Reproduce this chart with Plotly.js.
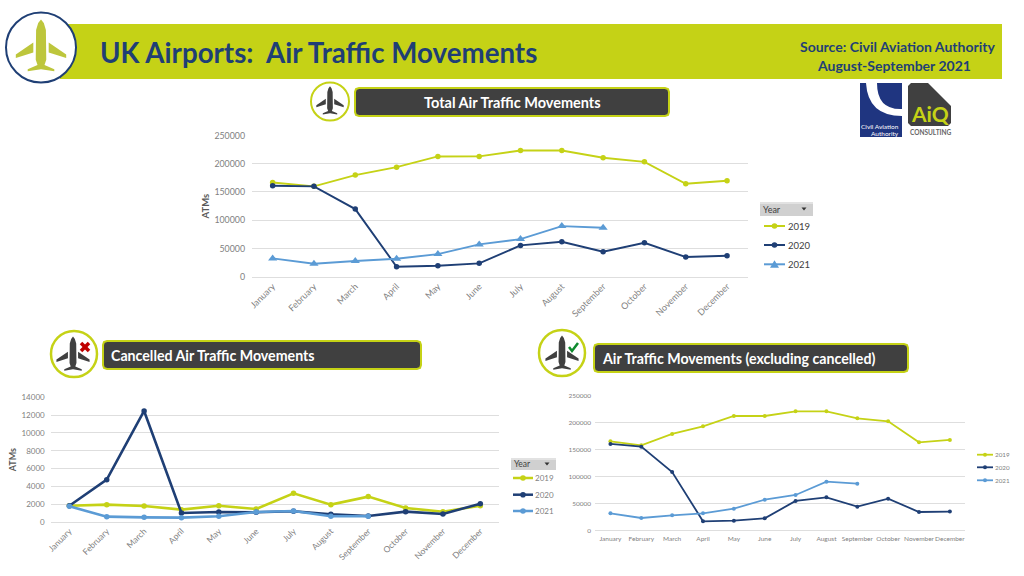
<!DOCTYPE html>
<html><head><meta charset="utf-8">
<script src="https://cdn.plot.ly/plotly-3.0.1.min.js"></script>
<style>html,body{margin:0;padding:0;background:#fff;overflow:hidden}#c{width:1024px;height:576px}</style>
</head><body><div id="c"></div>
<script>
const months = ["January","February","March","April","May","June","July","August","September","October","November","December"];
const years = ["2019","2020","2021"];

const total2019 = [166900,160000,179900,194000,212900,213000,223500,223500,210500,203400,164500,169800];
const total2020 = [161000,160000,119700,17700,19500,23600,55400,61900,44200,60000,34800,37100];
const total2021 = [32400,23000,27700,31800,40000,57200,66600,89600,86700];

const cancelled2019 = [1830,1950,1800,1385,1830,1460,3220,1950,2850,1570,1160,1835];
const cancelled2020 = [1830,4750,12470,1010,1120,1090,1200,860,670,1160,900,2060];
const cancelled2021 = [1760,600,520,490,640,1120,1240,640,640];

const excl2019 = [164800,157400,178400,192600,211700,211700,220400,220400,207400,201900,163000,167300];
const excl2020 = [159900,154900,108000,16700,17900,22200,54300,61000,43800,58600,33900,34600];
const excl2021 = [31500,22800,27800,31500,40100,56800,65400,90000,86400];

const LIME="#C5D216", NAVY="#1F3F75", BLUE="#5B9BD5", DARK="#404040", GREY="#7F7F7F", GRID="#DEDEDE";
const colors=[LIME,NAVY,BLUE];
const FONT="Lato, 'Open Sans', sans-serif";
const W=1024,H=576;
const px=x=>x/W, py=y=>1-y/H;
const shapes=[], annotations=[];

function rect(x0,y0,x1,y1,fill,line,lw){shapes.push({type:"rect",xref:"paper",yref:"paper",x0:px(x0),x1:px(x1),y0:py(y1),y1:py(y0),fillcolor:fill,line:{color:line||fill,width:lw||0}});}
function circle(cx,cy,r,fill,line,lw){shapes.push({type:"circle",xref:"paper",yref:"paper",x0:px(cx-r),x1:px(cx+r),y0:py(cy+r),y1:py(cy-r),fillcolor:fill,line:{color:line,width:lw}});}
function poly(pts,fill,close){let d=pts.map((p,i)=>(i?"L":"M")+px(p[0]).toFixed(5)+","+py(p[1]).toFixed(5)).join(" ")+(close===false?"":" Z");shapes.push({type:"path",xref:"paper",yref:"paper",path:d,fillcolor:close===false?"rgba(0,0,0,0)":fill,line:{color:fill,width:close===false?2.5:0}});}
function seg(x0,y0,x1,y1,c,w){shapes.push({type:"line",xref:"paper",yref:"paper",x0:px(x0),x1:px(x1),y0:py(y0),y1:py(y1),line:{color:c,width:w}});}
function label(x,y,text,size,color,anchor,bold){annotations.push({xref:"paper",yref:"paper",x:px(x),y:py(y),text:bold?"<b>"+text+"</b>":text,showarrow:false,xanchor:anchor||"left",yanchor:"middle",borderpad:0,font:{family:FONT,size:size,color:color}});}
function plane(cx,cy,r,c){
  const s=(u,v)=>[cx+u*r,cy+v*r];
  poly([s(0,-.8),s(.08,-.7),s(.14,-.5),s(.15,.35),s(.1,.5),s(.38,.62),s(.38,.68),s(0,.62),s(-.38,.68),s(-.38,.62),s(-.1,.5),s(-.15,.35),s(-.14,-.5),s(-.08,-.7)],c);
  poly([s(.22,-.14),s(.72,.2),s(.72,.3),s(.22,.14)],c);
  poly([s(-.22,-.14),s(-.72,.2),s(-.72,.3),s(-.22,.14)],c);
}
function titleBox(x0,y0,x1,y1,text,tx,anchor,size){
  const r=4;
  const k=[[x0+r,y0],[x1-r,y0],[x1-1,y0+1],[x1,y0+r],[x1,y1-r],[x1-1,y1-1],[x1-r,y1],[x0+r,y1],[x0+1,y1-1],[x0,y1-r],[x0,y0+r],[x0+1,y0+1]];
  let d=k.map((p,i)=>(i?"L":"M")+px(p[0]).toFixed(5)+","+py(p[1]).toFixed(5)).join(" ")+" Z";
  shapes.push({type:"path",xref:"paper",yref:"paper",path:d,fillcolor:DARK,line:{color:LIME,width:2}});
  label(tx,(y0+y1)/2,text,size,"#FFFFFF",anchor,true);
}
function yearBox(x0,y0,x1,y1,size){
  rect(x0,y0,x1,y1,"#D0D0D0");
  rect(x0,y0,x1,y0+2,"#E2E2E2");
  label(x0+2,(y0+y1)/2,"Year",size,"#404040","left");
  const m=(y0+y1)/2, a=x1-9;
  poly([[a-2.5,m-1.5],[a+2.5,m-1.5],[a,m+1.5]],"#333333");
}
function manualLegend(x0,x1,tx,ys,size,lw,mr,txtColor,tri){
  years.forEach((yr,i)=>{
    const c=(x0+x1)/2;
    seg(x0,ys[i],x1,ys[i],colors[i],lw);
    if(tri&&i===2) poly([[c,ys[i]-4],[c+4.5,ys[i]+3.5],[c-4.5,ys[i]+3.5]],colors[i]);
    else circle(c,ys[i],mr,colors[i],colors[i],0);
    label(tx,ys[i],yr,size,txtColor,"left");
  });
}

/* ---------- header ---------- */
rect(60,24,1002,79,LIME);
circle(41,47.5,35,"#FFFFFF",NAVY,2);
plane(41,47.5,35,"#BDC63C");
label(99,52,"UK Airports:\u00a0 Air Traffic Movements",27.7,NAVY,"left",true);
label(996,46.5,"Source: Civil Aviation Authority",14,NAVY,"right",true);
label(972,65,"August-September 2021",14,NAVY,"right",true);

/* ---------- logos ---------- */
rect(860,83,902,137,"#1F3580");
shapes.push({type:"path",xref:"paper",yref:"paper",fillcolor:"#FFFFFF",line:{width:0},
  path:`M${px(866)},${py(83)} Q${px(868)},${py(116)} ${px(902)},${py(116)} L${px(902)},${py(109)} Q${px(877)},${py(110)} ${px(877)},${py(83)} Z`});
label(900,126,"Civil Aviation",6.5,"#FFFFFF","right");
label(900,133,"Authority",6.5,"#FFFFFF","right");
poly([[911,83],[928,83],[951,106],[951,123],[948,126],[911,126],[908,123],[908,86]],DARK);
label(930,114,"AiQ",21,LIME,"center",true);
label(930,132.5,"CONSULTING",6.5,"#666666","center",true);

/* ---------- section headings ---------- */
circle(330,101.5,19,"#FFFFFF",LIME,2);
plane(330,101.5,19,DARK);
titleBox(355,88,669,116,"Total Air Traffic Movements",512,"center",14.5);

circle(74,354,23,"#FFFFFF",LIME,2.5);
plane(73,355,23,DARK);
seg(81,343,89,351,"#C00000",3.5); seg(89,343,81,351,"#C00000",3.5);
titleBox(103,341,421,369,"Cancelled Air Traffic Movements",110,"left",14.2);

circle(562,353,23,"#FFFFFF",LIME,2.5);
plane(562,354,23,DARK);
poly([[569,347],[572,351],[578,343]],"#0E8A2E",false);
titleBox(594,344,908,372,"Air Traffic Movements (excluding cancelled)",601,"left",14.2);

/* ---------- legends and Year buttons ---------- */
yearBox(760,202,813,216,9);
yearBox(511,458,556,470,8.5);
manualLegend(764,785,787,[226,245,264.3],9.5,2,2.8,"#404040",true);
manualLegend(513,533,534,[478,494.7,511],8,2.5,2.8,GREY,false);
manualLegend(977,993,994,[454.7,467.3,480.3],6.3,1.8,2,GREY,false);

/* ---------- charts ---------- */
function series(ax,ay,vals,opts){
  return vals.map((v,i)=>({
    type:"scatter",mode:"lines+markers",name:years[i],
    x:months.slice(0,v.length),y:v,xaxis:ax,yaxis:ay,cliponaxis:false,
    line:{color:colors[i],width:opts.lw},
    marker:{color:colors[i],size:(opts.tri&&i===2)?opts.ms+2.5:opts.ms,symbol:(opts.tri&&i===2)?"triangle-up":"circle"},
    showlegend:false
  }));
}
const data=[
  ...series("x","y",[total2019,total2020,total2021],{lw:1.9,ms:5.5,tri:true}),
  ...series("x2","y2",[cancelled2019,cancelled2020,cancelled2021],{lw:2.6,ms:5.5}),
  ...series("x3","y3",[excl2019,excl2020,excl2021],{lw:1.8,ms:4})
];
function xa(x0,x1,anchor,size,angle,st){return{domain:[px(x0),px(x1)],anchor,type:"category",categoryorder:"array",categoryarray:months,range:[-0.5,11.5],
  tickangle:angle,tickfont:{family:FONT,size,color:GREY},ticklabelstandoff:st,showgrid:false,zeroline:false,showline:true,linecolor:GRID,linewidth:1,ticks:"",automargin:false,fixedrange:true};}
function ya(y0,y1,anchor,max,dtick,size,st,title,tsize,standoff){return{domain:[py(y0),py(y1)],anchor,range:[0,max],dtick,tick0:0,tickformat:"d",
  tickfont:{family:FONT,size,color:GREY},ticklabelstandoff:st,showgrid:true,gridcolor:GRID,gridwidth:1,zeroline:false,showline:false,ticks:"",automargin:false,fixedrange:true,
  title:title?{text:"<b>"+title+"</b>",font:{family:FONT,size:tsize,color:"#595959"},standoff}:undefined};}

const layout={
  width:W,height:H,margin:{l:0,r:0,t:0,b:0,pad:0},paper_bgcolor:"#FFFFFF",plot_bgcolor:"rgba(0,0,0,0)",
  font:{family:FONT},hovermode:false,showlegend:false,
  xaxis:xa(252,747.7,"y",9,-45,0),
  yaxis:ya(276.7,135.5,"x",250000,50000,8.8,6,"ATMs",9.5,3),
  xaxis2:xa(50.7,499,"y2",8.5,-45,0),
  yaxis2:ya(522,397.3,"x2",14000,2000,8,5,"ATMs",9,3),
  xaxis3:xa(595,965.3,"y3",6.5,0,2),
  yaxis3:ya(530.3,395.3,"x3",250000,50000,6.5,3,null),
  shapes,annotations
};
Plotly.newPlot("c",data,layout,{displayModeBar:false,staticPlot:true});
</script></body></html>
